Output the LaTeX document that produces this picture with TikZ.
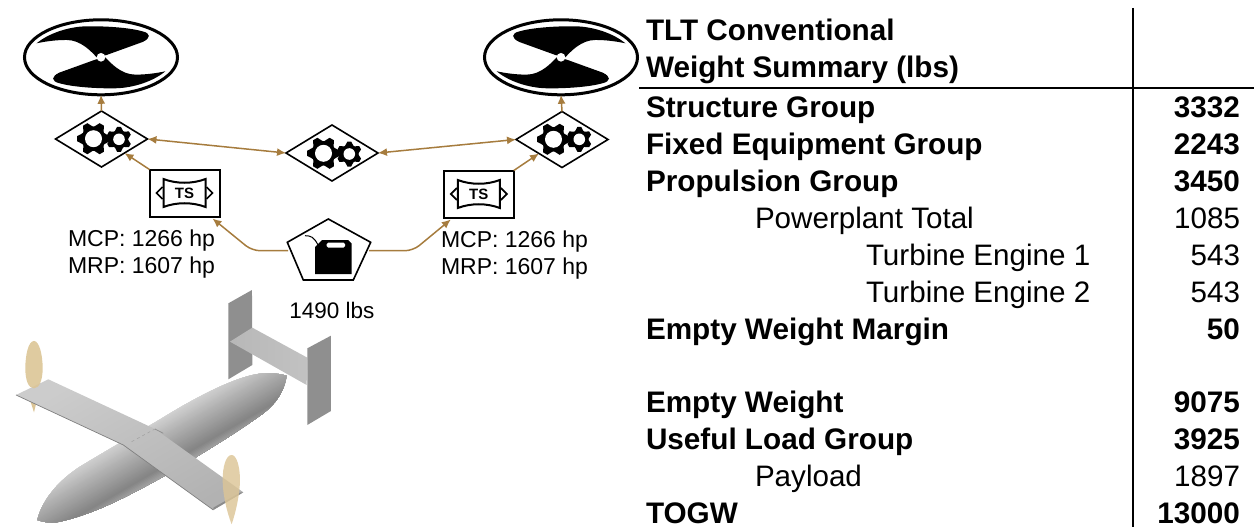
\documentclass[tikz,border=0pt]{standalone}
\usepackage{fontspec}
\setmainfont{Liberation Sans}
\usetikzlibrary{arrows.meta,shapes.geometric}
\definecolor{brownline}{HTML}{A67C3E}
\definecolor{tan}{HTML}{DCC596}
\tikzset{
  ell/.style={draw=black,line width=3pt,ellipse,fill=white,minimum width=153pt,minimum height=75pt,inner sep=0pt,outer sep=0pt},
  gbox/.style={draw=black,line width=1.6pt,diamond,minimum width=92pt,minimum height=56pt,inner sep=0pt,outer sep=0pt},
  tsbox/.style={draw=black,line width=2pt,rectangle,minimum width=70pt,minimum height=47pt,inner sep=0pt,outer sep=0pt},
  flow/.style={draw=brownline,line width=1.5pt,-{Latex[length=9pt,width=8pt]}},
  flowb/.style={draw=brownline,line width=1.5pt,{Latex[length=9pt,width=8pt]}-{Latex[length=9pt,width=8pt]}},
  lab/.style={inner sep=0pt,outer sep=0pt,anchor=base west,font=\fontsize{23}{26}\selectfont},
  bl/.style={inner sep=0pt,outer sep=0pt,anchor=base west,font=\fontsize{29.7}{32}\selectfont\bfseries},
  rg/.style={inner sep=0pt,outer sep=0pt,anchor=base west,font=\fontsize{29.6}{32}\selectfont},
  nb/.style={inner sep=0pt,outer sep=0pt,anchor=base east,font=\fontsize{29.7}{32}\selectfont\bfseries},
  nr/.style={inner sep=0pt,outer sep=0pt,anchor=base east,font=\fontsize{29.6}{32}\selectfont},
  rule/.style={draw=black,line width=2pt},
}
% centre x, centre y, outer radius, hole radius, rotation
\newcommand{\gearicon}[5]{%
  \begin{scope}[shift={(#1,#2)}]
    \fill[black] (0,0) circle ({0.74*#3});
    \foreach \a in {0,60,...,300}{
      \fill[black,rotate=\a+#5] ({0.6*#3},{-0.36*#3}) -- (#3,{-0.15*#3}) -- (#3,{0.15*#3}) -- ({0.6*#3},{0.36*#3}) -- cycle;
    }
    \fill[white] (0,0) circle (#4);
  \end{scope}}
\newcommand{\tsicon}[2]{%
  \begin{scope}[shift={(#1,#2)}]
    \draw[black,line width=2pt,line join=miter] (-21,-14) .. controls (-8,-9) and (8,-9) .. (21,-14) -- (21,14) .. controls (8,9) and (-8,9) .. (-21,14) -- cycle;
    \draw[black,line width=1.7pt] (-22,-6) -- (-28,0) -- (-22,6);
    \draw[black,line width=1.7pt] (22,-6) -- (28,0) -- (22,6);
    \node[inner sep=0pt,font=\fontsize{15}{15}\selectfont\bfseries] at (0,0) {TS};
  \end{scope}}
\newcommand{\bladepath}{%
  \fill[black] (-13,0) .. controls (-28,-16) and (-60,-52) .. (-103,-52) .. controls (-135,-52) and (-165,-48) .. (-193,-42) .. controls (-160,-70) and (-100,-92) .. (-43,-93) .. controls (20,-94) and (90,-88) .. (124,-78) .. controls (150,-72) and (150,-58) .. (125,-46) -- (17,-7) -- cycle;}
\begin{document}
\begin{tikzpicture}[x=1pt,y=-1pt]
\useasboundingbox (0,0) rectangle (1254,527);

% ---- aircraft
\begin{scope}[x=.3333pt,y=-.3333pt,yshift=-285pt]
  \fill[black!44] (685,55) -- (756,15) -- (757,240) -- (685,283) -- cycle;
  \shade[left color=black!28,right color=black!24] (690,170) -- (757,128) -- (922,218) -- (920,300) -- cycle;
  \fill[black!44] (922,190) -- (993,152) -- (993,378) -- (922,420) -- cycle;
  \begin{scope}
    \clip (112,705) .. controls (125,650) and (170,590) .. (240,545) .. controls (330,490) and (420,440) .. (510,385) .. controls (610,325) and (720,270) .. (790,265) .. controls (820,263) and (845,268) .. (860,272) .. controls (855,310) and (835,350) .. (790,385) .. controls (700,450) and (600,510) .. (490,575) .. controls (390,630) and (280,690) .. (170,712) .. controls (150,714) and (130,712) .. (112,705) -- cycle;
    \begin{scope}[shift={(486,488)},rotate=30]
      \foreach \t [evaluate=\t as \v using {\t<-30 ? 14+(\t+95)*16/65 : (\t<50 ? 30+(\t+30)*18/80 : 48-(\t-50)*24/50)}] in {-110,-106,...,110}{
        \fill[black!\v] (-560,\t) rectangle (560,120);
      }
    \end{scope}
  \end{scope}
  \fill[tan] (90,345) -- (102,382) -- (111,345) -- cycle;
  \shade[left color=black!20,right color=black!30,shading angle=30] (48,330) -- (145,283) -- (465,432) -- (730,622) -- (640,675) -- (370,480) -- cycle;
  \draw[black!50,line width=.7pt] (48,330) -- (370,480) -- (640,675);
  \fill[black!45] (640,675) -- (730,622) -- (722,622) -- (640,668) -- cycle;
  \draw[black!40,line width=.4pt,dashed] (395,470) -- (465,432);
  \draw[black!45,line width=.7pt] (465,432) -- (490,445);
  \fill[tan,opacity=.9] (102,168) .. controls (85,168) and (76,210) .. (76,250) .. controls (76,285) and (85,310) .. (102,310) .. controls (118,310) and (128,285) .. (128,250) .. controls (128,210) and (118,168) .. (102,168) -- cycle;
  \fill[tan,opacity=.82] (695,510) .. controls (678,510) and (668,545) .. (668,585) .. controls (668,625) and (680,680) .. (695,718) .. controls (708,680) and (720,625) .. (720,585) .. controls (720,545) and (710,510) .. (695,510) -- cycle;
\end{scope}

% ---- rotors
\node[ell] (rl) at (101,57.3) {};
\node[ell] (rr) at (561,57.3) {};
\begin{scope}[x=.3333pt,y=-.3333pt,xshift=101pt,yshift=-57.3pt]
  \bladepath
  \begin{scope}[xscale=-1,yscale=-1]\bladepath\end{scope}
  \fill[white] (0,0) circle (13);
\end{scope}
\begin{scope}[x=-.3333pt,y=-.3333pt,xshift=561pt,yshift=-57.3pt]
  \bladepath
  \begin{scope}[xscale=-1,yscale=-1]\bladepath\end{scope}
  \fill[white] (0,0) circle (13);
\end{scope}

% ---- gearboxes
\node[gbox] (gl) at (101.5,139) {};
\node[gbox] (gc) at (332,153) {};
\node[gbox] (gr) at (562,139.5) {};
\gearicon{93.5}{138.7}{16.5}{8.5}{0}
\gearicon{119}{139.3}{12.5}{5.8}{30}
\gearicon{323.5}{153.3}{16.5}{8.5}{0}
\gearicon{349.3}{154}{12.5}{5.8}{30}
\gearicon{553.5}{139.3}{16.5}{8.5}{0}
\gearicon{579.3}{139.3}{12.5}{5.8}{30}

% ---- turboshafts
\node[tsbox] (tl) at (184.5,193) {};
\node[tsbox] (tr) at (478.8,194) {};
\tsicon{184.5}{193}
\tsicon{478.8}{194}

% ---- fuel tank
\draw[black,line width=1.6pt,line join=miter] (328.3,219) -- (370.7,242.3) -- (353.3,280) -- (303.3,280) -- (287.3,242.3) -- cycle;
\fill[black] (315,247) -- (322,240) -- (348,240) -- (351.7,243.5) -- (351.7,274) -- (315,274) -- cycle;
\fill[white,rounded corners=1.5pt] (326.7,242.7) rectangle (345,247.7);
\draw[black,line width=1pt] (305,235.7) .. controls (311,235.7) and (314,237) .. (318,245);
\coordinate (fl) at (288,250.7);
\coordinate (fr) at (369,250.7);
\coordinate (bl) at (252,250.7);
\coordinate (br) at (413,250.7);

% ---- connectors
\draw[flow] (gl.north) -- (rl.south);
\draw[flow] (gr.north) -- (rr.south);
\draw[flowb] (gl.east) -- (gc.west);
\draw[flowb] (gc.east) -- (gr.west);
\draw[flow] (tl.north west) -- (gl.south east);
\draw[flow] (tr.north east) -- (gr.south west);
\draw[flow,rounded corners=8pt] (fl) -- (bl) -- ([xshift=-7pt,yshift=-2pt]tl.south east);
\draw[flow,rounded corners=8pt] (fr) -- (br) -- ([xshift=7pt,yshift=-2pt]tr.south west);

% ---- labels
\node[lab] (a1) at (68,246) {MCP: 1266 hp};
\node[lab] (a2) at (68,273.5) {MRP: 1607 hp};
\node[lab] (a3) at (441,247) {MCP: 1266 hp};
\node[lab] (a4) at (441,274.5) {MRP: 1607 hp};
\node[lab,anchor=base,font=\fontsize{22.5}{24}\selectfont] (a5) at (332,318) {1490 lbs};

% ---- table
\draw[rule] (1133,8) -- (1133,527);
\draw[rule] (639,88) -- (1254,88);
\node[bl] (h1) at (646,40.5) {TLT Conventional};
\node[bl] (h2) at (646,77.5) {Weight Summary (lbs)};
\node[bl] (r1) at (646,117.5) {Structure Group};
\node[bl] (r2) at (646,154.5) {Fixed Equipment Group};
\node[bl] (r3) at (646,191) {Propulsion Group};
\node[rg] (r4) at (755,228) {Powerplant Total};
\node[rg] (r5) at (866,265) {Turbine Engine 1};
\node[rg] (r6) at (866,302) {Turbine Engine 2};
\node[bl] (r7) at (646,339) {Empty Weight Margin};
\node[bl] (r8) at (646,412.5) {Empty Weight};
\node[bl] (r9) at (646,449.5) {Useful Load Group};
\node[rg] (r10) at (755,486) {Payload};
\node[bl] (r11) at (646,523) {TOGW};
\node[nb] (n1) at (1240,117.5) {3332};
\node[nb] (n2) at (1240,154.5) {2243};
\node[nb] (n3) at (1240,191) {3450};
\node[nr] (n4) at (1240,228) {1085};
\node[nr] (n5) at (1240,265) {543};
\node[nr] (n6) at (1240,302) {543};
\node[nb] (n7) at (1240,339) {50};
\node[nb] (n8) at (1240,412.5) {9075};
\node[nb] (n9) at (1240,449.5) {3925};
\node[nr] (n10) at (1240,486) {1897};
\node[nb] (n11) at (1240,523) {13000};
\end{tikzpicture}
\end{document}
